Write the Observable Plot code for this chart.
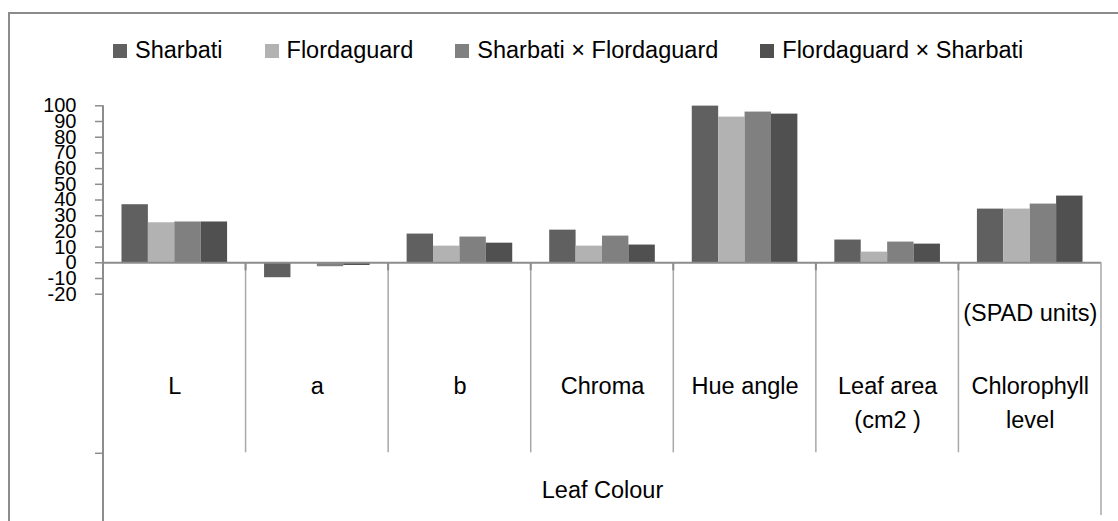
<!DOCTYPE html>
<html>
<head>
<meta charset="utf-8">
<script src="https://cdn.jsdelivr.net/npm/d3@7"></script>
<script src="https://cdn.jsdelivr.net/npm/@observablehq/plot@0.6"></script>
<style>
html, body { margin: 0; padding: 0; background: #fff; overflow: hidden; width: 1118px; height: 521px; }
body { position: relative; font-family: "Liberation Sans", Arial, sans-serif; }
#border { position: absolute; left: 8px; top: 12px; width: 1300px; height: 700px; border-left: 2px solid #8c8c8c; border-top: 2px solid #8c8c8c; pointer-events: none; }
#legend { height: 90px; box-sizing: border-box; padding-top: 37px; padding-left: 113px; display: flex; align-items: flex-start; font-size: 23.5px; color: #000; }
.item { display: inline-flex; align-items: center; height: 26px; margin-right: 42px; white-space: nowrap; }
.sw { width: 14px; height: 14px; margin-right: 8px; margin-top: 2px; }
#chart svg { display: block; }
#chart svg g[aria-label="y-axis tick label"] { font-size: 20px !important; }
#chart svg g[aria-label="y-axis tick label"] text { font-size: 20px !important; }
</style>
</head>
<body>
<div id="legend"></div>
<div id="chart"></div>
<div id="border"></div>
<script>
// ---- data ----
const categories = ["L", "a", "b", "Chroma", "Hue angle", "Leaf area (cm2 )", "Chlorophyll level"];
const categoryLabels = ["L", "a", "b", "Chroma", "Hue angle", "Leaf area\n(cm2 )", "Chlorophyll\nlevel"];
const groupLabel = "Leaf Colour";
const noteCategories = ["Chlorophyll level"];
const noteTexts = ["(SPAD units)"];
const series = ["Sharbati", "Flordaguard", "Sharbati × Flordaguard", "Flordaguard × Sharbati"];
const sharbati    = [37.0, -9.5, 18.3, 20.8, 99.8, 14.5, 34.2];
const flordaguard = [25.5, -0.5, 10.6, 10.6, 92.8,  6.8, 34.2];
const sharbatiXflordaguard = [26.0, -2.5, 16.4, 17.0, 96.0, 13.2, 37.4];
const flordaguardXsharbati = [26.0, -1.7, 12.5, 11.3, 94.7, 11.9, 42.5];
const colors = ["#606060", "#b2b2b2", "#808080", "#505050"];
const yTicks = [-20, -10, 0, 10, 20, 30, 40, 50, 60, 70, 80, 90, 100];

const seriesValues = [sharbati, flordaguard, sharbatiXflordaguard, flordaguardXsharbati];
const data = categories.flatMap((c, i) => series.map((s, j) => ({category: c, series: s, value: seriesValues[j][i]})));
const notes = noteCategories.map((c, i) => ({category: c, text: noteTexts[i]}));
const labelOf = new Map(categories.map((c, i) => [c, categoryLabels[i]]));

// ---- legend ----
const legend = d3.select("#legend");
series.forEach((s, i) => {
  const it = legend.append("span").attr("class", "item");
  it.append("span").attr("class", "sw").style("background", colors[i]);
  it.append("span").text(s);
});

// ---- chart ----
const plot = Plot.plot({
  width: 1118,
  height: 431,
  marginTop: 15.3,
  marginBottom: 227.3,
  marginLeft: 103,
  marginRight: 17,
  style: {fontFamily: "Liberation Sans, Arial, sans-serif", fontSize: "23.5px", color: "#000", background: "#fff", overflow: "visible"},
  fx: {domain: categories, padding: 0, round: false},
  x: {domain: series, paddingInner: 0, paddingOuter: 0.7, round: false, axis: null},
  y: {domain: [-20, 100]},
  color: {domain: series, range: colors},
  marks: [
    Plot.barY(data, {fx: "category", x: "series", y: "value", fill: "series"}),
    Plot.ruleY([0], {stroke: "#8c8c8c", strokeWidth: 2}),
    Plot.axisY({ticks: yTicks, tickSize: 8, tickPadding: 19, stroke: "#8c8c8c", strokeWidth: 1.5, fontSize: 20, label: null, tickFormat: d => String(d)}),
    Plot.axisFx({anchor: "bottom", tickSize: 0, tickPadding: 76.5, lineHeight: 1.42, tickFormat: d => labelOf.get(d),
                 label: groupLabel, labelAnchor: "center", labelOffset: 204}),
    Plot.text(notes, {fx: "category", text: "text", frameAnchor: "bottom", lineAnchor: "top", dy: 10.3})
  ]
});
document.getElementById("chart").appendChild(plot);

// ---- category grid lines (from Plot's own scales) ----
const fx = plot.scale("fx");
const y = plot.scale("y");
const bw = fx.bandwidth;
const y0 = y.apply(0);
const svg = d3.select(plot);
const g = svg.append("g");
const left = fx.apply(categories[0]);
const right = fx.apply(categories[categories.length - 1]) + bw;
// y axis line running down the whole chart
g.append("line").attr("x1", left).attr("x2", left).attr("y1", y.apply(100)).attr("y2", 431)
  .attr("stroke", "#8c8c8c").attr("stroke-width", 2);
// inner category dividers
categories.slice(1).forEach(c => {
  const x = fx.apply(c);
  g.append("line").attr("x1", x).attr("x2", x).attr("y1", y0).attr("y2", y0 + 190)
    .attr("stroke", "#a8a8a8").attr("stroke-width", 1.5);
  g.append("line").attr("x1", x).attr("x2", x).attr("y1", y0).attr("y2", y0 + 8)
    .attr("stroke", "#8c8c8c").attr("stroke-width", 2);
});
// right outer boundary
g.append("line").attr("x1", right).attr("x2", right).attr("y1", y0).attr("y2", 425)
  .attr("stroke", "#a8a8a8").attr("stroke-width", 1.5);
// tick at the group boundary on the axis
g.append("line").attr("x1", left - 8).attr("x2", left).attr("y1", y0 + 191).attr("y2", y0 + 191)
  .attr("stroke", "#8c8c8c").attr("stroke-width", 1.5);
</script>
</body>
</html>
